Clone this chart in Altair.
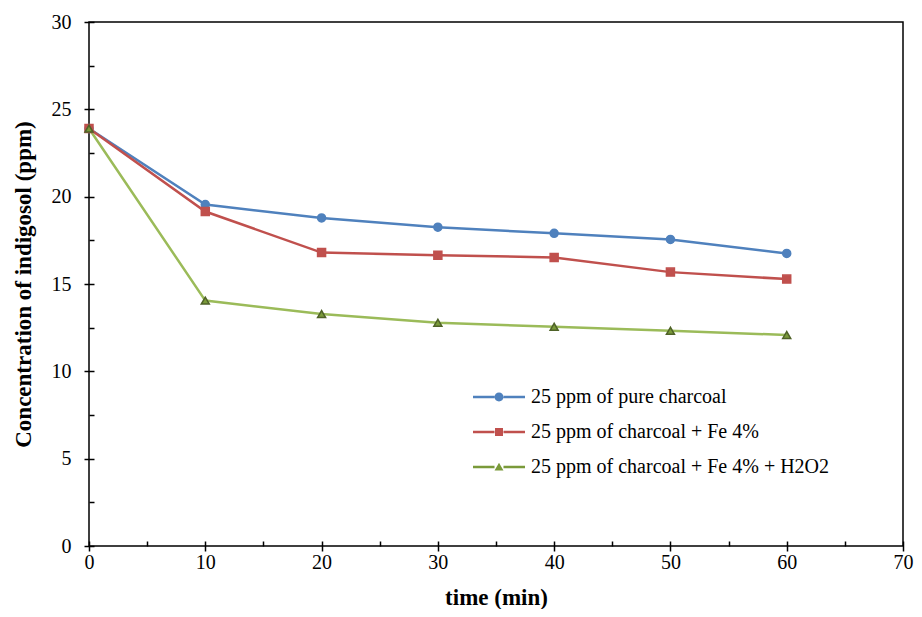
import altair as alt
import pandas as pd

series = ["25 ppm of pure charcoal", "25 ppm of charcoal + Fe 4%", "25 ppm of charcoal + Fe 4% + H2O2"]
time_min = [0, 10, 20, 30, 40, 50, 60]
pure = [23.9, 19.55, 18.78, 18.25, 17.9, 17.55, 16.75]
fe4 = [23.9, 19.15, 16.8, 16.65, 16.52, 15.68, 15.28]
fe4_h2o2 = [23.9, 14.05, 13.28, 12.78, 12.55, 12.32, 12.08]

line_colors = ["#4F81BD", "#C0504D", "#9BBB59"]
marker_fill = ["#4F81BD", "#C0504D", "#7A9A3A"]
marker_stroke = ["#4F81BD", "#C0504D", "#4F6228"]

rows = []
for name, vals in zip(series, [pure, fe4, fe4_h2o2]):
    for t, v in zip(time_min, vals):
        rows.append({"time": t, "conc": v, "series": name})
df = pd.DataFrame(rows)

FONT = "Liberation Serif"

# legend symbols: line segments with marker (custom paths)
seg = "M-3.714,-0.18 L-0.64,-0.18 L-0.64,0.18 L-3.714,0.18 Z M0.64,-0.18 L3.714,-0.18 L3.714,0.18 L0.64,0.18 Z "
leg_paths = [
    seg + "M-0.64,0 A0.64,0.64 0 1,1 0.64,0 A0.64,0.64 0 1,1 -0.64,0 Z",
    seg + "M-0.57,-0.57 L0.57,-0.57 L0.57,0.57 L-0.57,0.57 Z",
    seg + "M0,-0.6 L0.64,0.5 L-0.64,0.5 Z",
]

x_enc = alt.X(
    "time:Q",
    scale=alt.Scale(domain=[0, 70], nice=False),
    axis=alt.Axis(
        title="time (min)",
        values=list(range(0, 75, 5)),
        labelExpr="datum.value % 10 === 0 ? datum.label : ''",
        grid=False,
        domain=False,
        offset=-5,
        tickSize={"condition": {"test": "datum.value % 10 === 0", "value": 10}, "value": 5},
        tickColor="black",
        tickWidth=1.5,
        labelFont=FONT,
        labelFontSize=20,
        labelColor="black",
        labelPadding=1,
        titleFont=FONT,
        titleFontSize=23,
        titleFontWeight="bold",
        titleColor="black",
        titlePadding=14,
        labelFlush=False,
    ),
)
y_enc = alt.Y(
    "conc:Q",
    scale=alt.Scale(domain=[0, 30], nice=False),
    axis=alt.Axis(
        title="Concentration of indigosol (ppm)",
        values=[v * 2.5 for v in range(0, 13)],
        labelExpr="datum.value % 5 === 0 ? datum.label : ''",
        grid=False,
        domain=False,
        offset=-5,
        tickSize={"condition": {"test": "datum.value % 5 === 0", "value": 10}, "value": 5},
        tickColor="black",
        tickWidth=1.5,
        labelFont=FONT,
        labelFontSize=20,
        labelColor="black",
        labelPadding=13,
        titleFont=FONT,
        titleFontSize=23,
        titleFontWeight="bold",
        titleColor="black",
        titlePadding=16,
        labelFlush=False,
    ),
)

lines = alt.Chart(df).mark_line(strokeWidth=2.5).encode(
    x=x_enc,
    y=y_enc,
    color=alt.Color("series:N", scale=alt.Scale(domain=series, range=line_colors), legend=None),
    detail="series:N",
)

points = alt.Chart(df).mark_point(filled=True, size=64, strokeWidth=1.5, opacity=1).encode(
    x="time:Q",
    y="conc:Q",
    fill=alt.Fill("series:N", scale=alt.Scale(domain=series, range=marker_fill), legend=None),
    stroke=alt.Stroke("series:N", scale=alt.Scale(domain=series, range=marker_stroke), legend=None),
    shape=alt.Shape("series:N", scale=alt.Scale(domain=series, range=["circle", "square", "triangle-up"]), legend=None),
)

legend_spec = dict(
    title=None,
    orient="none",
    legendX=400,
    legendY=365,
    symbolSize=196,
    symbolOpacity=1,
    symbolStrokeWidth=0,
    labelFont=FONT,
    labelFontSize=20,
    labelColor="black",
    labelOffset=22,
    rowPadding=15,
    padding=0,
    labelLimit=400,
)

legend_layer = alt.Chart(df).mark_point(filled=True, opacity=0).encode(
    x="time:Q",
    y="conc:Q",
    fill=alt.Fill("series:N", scale=alt.Scale(domain=series, range=marker_fill), legend=alt.Legend(**legend_spec)),
    shape=alt.Shape("series:N", scale=alt.Scale(domain=series, range=leg_paths), legend=alt.Legend(**legend_spec)),
)

chart = (
    alt.layer(lines, points, legend_layer)
    .resolve_scale(color="independent", fill="independent", stroke="independent", shape="independent")
    .properties(
        width=814,
        height=524,
        autosize=alt.AutoSizeParams(type="none"),
        padding={"left": 81, "top": 14, "right": 11, "bottom": 63},
        background="white",
    )
    .configure_view(stroke="black", strokeWidth=1.5)
)

chart.save("out.html", embed_options={"renderer": "svg", "actions": False})
